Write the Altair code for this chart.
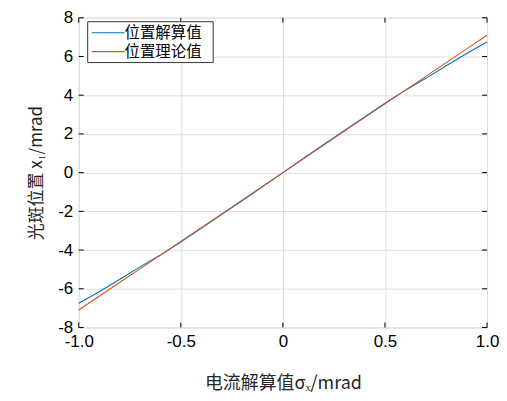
import altair as alt
import pandas as pd

x_vals = [-1.0, -0.9, -0.8, -0.7, -0.6, -0.5, -0.4, -0.3, -0.2, -0.1, 0.0,
          0.1, 0.2, 0.3, 0.4, 0.5, 0.6, 0.7, 0.8, 0.9, 1.0]
solved = [-6.75, -6.15, -5.52, -4.87, -4.26, -3.58, -2.88, -2.17, -1.45, -0.73, 0.0,
          0.73, 1.45, 2.17, 2.88, 3.58, 4.26, 4.87, 5.52, 6.15, 6.75]
theory = [-7.1, -6.39, -5.68, -4.97, -4.26, -3.55, -2.84, -2.13, -1.42, -0.71, 0.0,
          0.71, 1.42, 2.13, 2.84, 3.55, 4.26, 4.97, 5.68, 6.39, 7.1]
series_names = ["位置解算值", "位置理论值"]
colors = ["#0072BD", "#D95319"]
x_ticks = [-1.0, -0.5, 0.0, 0.5, 1.0]
y_ticks = [-8, -6, -4, -2, 0, 2, 4, 6, 8]

rows = []
for xv, a, b in zip(x_vals, solved, theory):
    rows.append({"x": xv, "y": a, "s": series_names[0]})
    rows.append({"x": xv, "y": b, "s": series_names[1]})
df = pd.DataFrame(rows)

W, H = 410, 311
TL = 5

xs = alt.Scale(domain=[-1, 1], nice=False, zero=False)
ys = alt.Scale(domain=[-8, 8], nice=False, zero=False)

x_axis = alt.Axis(values=x_ticks,
                  labelExpr="datum.value == 0 ? '0' : replace(format(datum.value, '.1f'), '\u2212', '-')",
                  title="电流解算值σₓ/mrad", titleFont="Noto Sans CJK SC",
                  titleFontWeight="normal", titleFontSize=18, titlePadding=25,
                  labelFont="Liberation Sans", labelFontSize=17, labelPadding=6,
                  labelFlush=False, labelOverlap=False,
                  ticks=False, domain=False, gridColor="#dddddd", gridWidth=1,
                  labelColor="#000000", titleColor="#262626")
y_axis = alt.Axis(values=y_ticks,
                  labelExpr="replace(format(datum.value, 'd'), '\u2212', '-')",
                  title="光斑位置 x₁/mrad", titleFont="Noto Sans CJK SC",
                  titleFontWeight="normal", titleFontSize=17, titlePadding=12,
                  labelFont="Liberation Sans", labelFontSize=17, labelPadding=6,
                  labelFlush=False, labelOverlap=False,
                  ticks=False, domain=False, gridColor="#dddddd", gridWidth=1,
                  labelColor="#000000", titleColor="#262626")

lines = alt.Chart(df).mark_line(strokeWidth=1.1).encode(
    x=alt.X("x:Q", scale=xs, axis=x_axis),
    y=alt.Y("y:Q", scale=ys, axis=y_axis),
    color=alt.Color("s:N", scale=alt.Scale(domain=series_names, range=colors), legend=None)
)

xt = pd.DataFrame({"x": x_ticks})
yt = pd.DataFrame({"y": y_ticks})
xticks_bottom = alt.Chart(xt).mark_rule(color="black").encode(
    x=alt.X("x:Q", scale=xs, axis=x_axis), y=alt.value(H), y2=alt.value(H - TL))
xticks_top = alt.Chart(xt).mark_rule(color="black").encode(
    x=alt.X("x:Q", scale=xs, axis=x_axis), y=alt.value(0), y2=alt.value(TL))
yticks_left = alt.Chart(yt).mark_rule(color="black").encode(
    y=alt.Y("y:Q", scale=ys, axis=y_axis), x=alt.value(0), x2=alt.value(TL))
yticks_right = alt.Chart(yt).mark_rule(color="black").encode(
    y=alt.Y("y:Q", scale=ys, axis=y_axis), x=alt.value(W), x2=alt.value(W - TL))

# manual legend (MATLAB style box in the top-left corner)
leg_df = pd.DataFrame({"s": ["box"]})
leg_box = alt.Chart(leg_df).mark_rect(fill="white", stroke="#333333", strokeWidth=1).encode(
    x=alt.value(9), x2=alt.value(135), y=alt.value(4), y2=alt.value(45))
leg_layers = [leg_box]
for i, (name, col) in enumerate(zip(series_names, colors)):
    yy = 15 + i * 19
    d = pd.DataFrame({"s": [name]})
    leg_layers.append(alt.Chart(d).mark_rule(color=col, strokeWidth=1.1).encode(
        x=alt.value(13), x2=alt.value(46), y=alt.value(yy)))
    leg_layers.append(alt.Chart(d).mark_text(align="left", baseline="middle",
                                             font="Noto Sans CJK SC", fontSize=15.5,
                                             color="#000000").encode(
        x=alt.value(46), y=alt.value(yy), text="s:N"))

chart = alt.layer(lines, xticks_bottom, xticks_top, yticks_left, yticks_right,
                  *leg_layers).properties(
    width=W, height=H, padding={"left": 19, "top": 0, "right": 0, "bottom": 4}
).configure_view(stroke="#222222", strokeWidth=1).configure(background="white")

chart.save("out.html", embed_options={"renderer": "svg", "actions": False})
